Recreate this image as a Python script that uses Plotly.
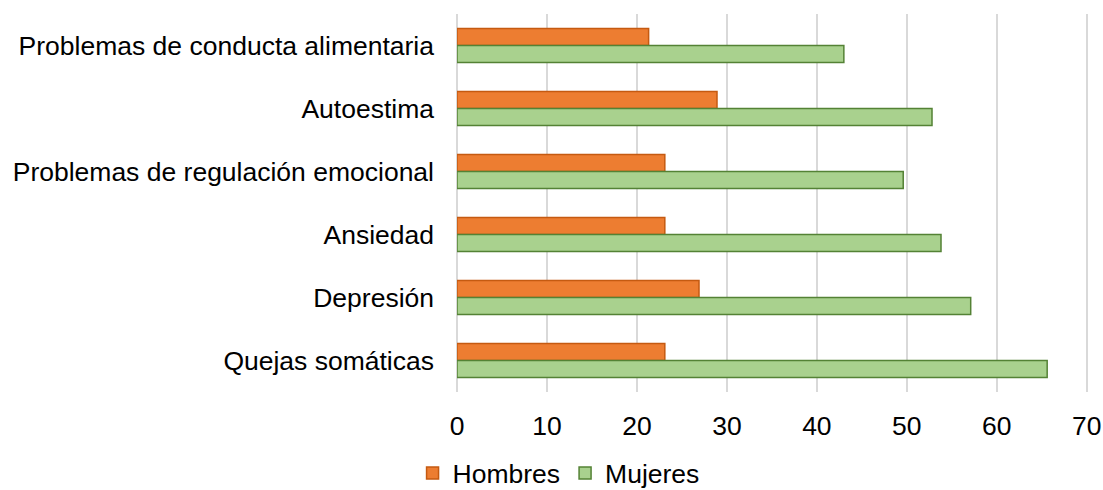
import plotly.graph_objects as go

categories = ["Problemas de conducta alimentaria", "Autoestima", "Problemas de regulación emocional",
              "Ansiedad", "Depresión", "Quejas somáticas"]
hombres = [21.3, 28.9, 23.1, 23.1, 26.9, 23.1]
mujeres = [43.0, 52.8, 49.6, 53.8, 57.1, 65.6]
x_ticks = [0, 10, 20, 30, 40, 50, 60, 70]

fig = go.Figure()
fig.add_trace(go.Bar(y=categories, x=hombres, name="Hombres", orientation="h",
                     marker=dict(color="#ED7D31", line=dict(color="#C55A11", width=1.5))))
fig.add_trace(go.Bar(y=categories, x=mujeres, name="Mujeres", orientation="h",
                     marker=dict(color="#A9D18E", line=dict(color="#548235", width=1.5))))

fig.update_layout(
    width=1103, height=490,
    margin=dict(l=457, r=14, t=14, b=98, autoexpand=False),
    barmode="group", bargap=0.46, bargroupgap=0,
    plot_bgcolor="white", paper_bgcolor="white",
    font=dict(family="Liberation Sans, Arial, sans-serif", size=26.5, color="#000000"),
    xaxis=dict(range=[0, 70.25], tickvals=x_ticks, showgrid=True, gridcolor="#D9D9D9", gridwidth=2,
               zeroline=True, zerolinecolor="#D9D9D9", zerolinewidth=2, showline=False,
               ticklabelstandoff=15, automargin=False, ticklabeloverflow="allow"),
    yaxis=dict(autorange="reversed", showgrid=False, showline=False, ticklabelstandoff=22,
               automargin=False),
    legend=dict(orientation="h", x=0.5064, xanchor="center", xref="container",
                y=0.034, yanchor="middle", yref="container", bgcolor="rgba(0,0,0,0)",
                font=dict(size=26.5), itemwidth=30, traceorder="normal"),
    showlegend=True,
)
fig.write_html("out.html", config={"displayModeBar": False},
               post_script="document.body.style.margin='0';document.body.style.overflow='hidden';")
